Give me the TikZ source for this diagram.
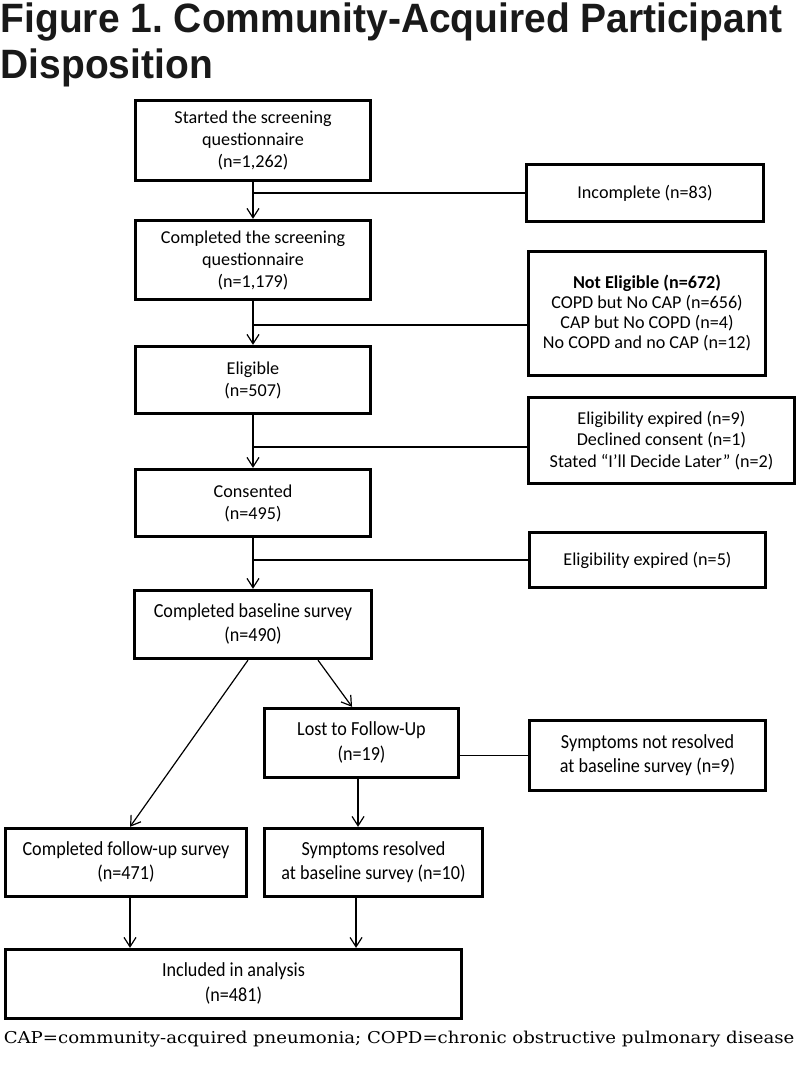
\documentclass[tikz,border=0pt]{standalone}
\usepackage{fontspec}
\usepackage{graphicx}
\usetikzlibrary{arrows.meta,calc}
\newfontfamily\boxfontfam{Carlito}
\newfontfamily\titlefam{Liberation Sans}
\newfontfamily\notefam{DejaVu Serif}
\newcommand\bxf[1]{\boxfontfam\fontsize{13.6pt}{#1}\selectfont}
\newcommand\tallcell[1]{\scalebox{1}[1.1]{\begin{tabular}{@{}c@{}}#1\end{tabular}}}
\frenchspacing
\begin{document}
\begin{tikzpicture}[x=0.75pt,y=-0.75pt,
  box/.style={draw=black,line width=2.5pt,inner sep=0pt,align=center,font=\bxf{16.5pt}},
  lowbox/.style={box,font=\bxf{17pt}},
  sz/.style 2 args={minimum width=#1*0.75pt,minimum height=#2*0.75pt},
  conn/.style={line width=0.9pt},
  arr/.style={conn,-{Straight Barb[length=7pt,width=9pt]}},
  ttl/.style={anchor=base west,inner sep=0pt,text=black!90,font=\titlefam\bfseries\fontsize{30.75pt}{34pt}\selectfont}]
\useasboundingbox (0,0) rectangle (800,1072);

% title
\node[ttl] (t1) at (0.5,32.7) {\scalebox{0.95}[1]{Figure 1. Community-Acquired Participant}};
\node[ttl] (t2) at (0.5,78) {\scalebox{0.95}[1]{Disposition}};

% main column
\node[box,sz={235}{80}] (b1) at (253,140.5) {Started the screening\\questionnaire\\(n=1,262)};
\node[box,sz={235}{79}] (b2) at (253,260) {Completed the screening\\questionnaire\\(n=1,179)};
\node[box,sz={235}{67}] (elig) at (253,380) {Eligible\\(n=507)};
\node[box,sz={235}{67}] (cons) at (253,503) {Consented\\(n=495)};
\node[lowbox,sz={237}{68}] (cbs) at (253,624.5) {\tallcell{Completed baseline survey\\(n=490)}};

% side column
\node[box,sz={237}{57}] (inc) at (645,193) {Incomplete (n=83)};
\node[box,sz={237}{124},font=\bxf{15pt}] (ne) at (647,313.5) {\textbf{Not Eligible (n=672)}\\COPD but No CAP (n=656)\\CAP but No COPD (n=4)\\No COPD and no CAP (n=12)};
\node[box,sz={266}{86},font=\bxf{16pt}] (eb) at (661.5,440.5) {Eligibility expired (n=9)\\Declined consent (n=1)\\Stated “I’ll Decide Later” (n=2)};
\node[box,sz={236}{55}] (e5) at (647.5,560) {Eligibility expired (n=5)};

% lower part
\node[lowbox,sz={194}{69}] (lost) at (361.5,743) {\tallcell{Lost to Follow-Up\\(n=19)}};
\node[lowbox,sz={236}{70}] (snr) at (647.5,755.5) {\tallcell{Symptoms not resolved\\at baseline survey (n=9)}};
\node[lowbox,sz={241}{68}] (cfu) at (126,862.5) {\tallcell{Completed follow-up survey\\(n=471)}};
\node[lowbox,sz={218}{68}] (sr) at (373.5,862.5) {\tallcell{Symptoms resolved\\at baseline survey (n=10)}};
\node[lowbox,sz={456}{69}] (incl) at (233.5,984) {\tallcell{Included in analysis\\(n=481)}};

% footnote
\node[anchor=base west,inner sep=0pt,font=\notefam] (fn) at (3.5,1043) {\resizebox{593pt}{9.3pt}{CAP=community-acquired pneumonia; COPD=chronic obstructive pulmonary disease}};

% connectors main column
\draw[arr] (b1) -- (b2);
\draw[arr] (b2) -- (elig);
\draw[arr] (elig) -- (cons);
\draw[arr] (cons) -- (cbs);

% side connectors
\draw[conn] (b1.south |- inc.west) -- (inc.west);
\path ([yshift=-8.6pt]ne.west) coordinate (neW);
\draw[conn] (b2.south |- neW) -- (neW);
\path ([yshift=-4.9pt]eb.west) coordinate (ebW);
\draw[conn] (elig.south |- ebW) -- (ebW);
\draw[conn] (cons.south |- e5.west) -- (e5.west);

% lower connectors
\draw[arr] ([xshift=-3.75pt]cbs.south) -- ([xshift=3pt]cfu.north);
\draw[arr] ([xshift=48.75pt]cbs.south) -- ([xshift=-7.1pt]lost.north);
\draw[conn] (lost.east |- snr.west) -- (snr.west);
\draw[arr] ([xshift=-2.6pt]lost.south) -- ([xshift=-2.6pt]lost.south |- sr.north);
\draw[arr] ([xshift=3pt]cfu.south) -- ([xshift=3pt]cfu.south |- incl.north);
\draw[arr] ([xshift=-13.1pt]sr.south) -- ([xshift=-13.1pt]sr.south |- incl.north);
\end{tikzpicture}
\end{document}
